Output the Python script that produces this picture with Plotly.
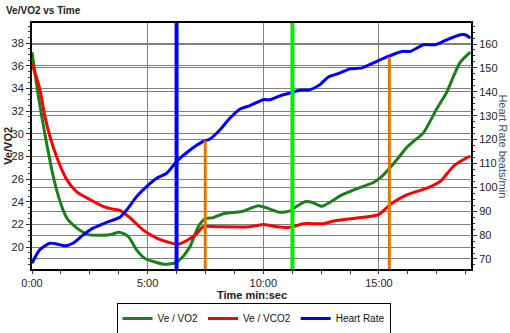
import plotly.graph_objects as go

# ---- data (time in minutes) ----
t_vo2 = [0, 0.3, 0.6, 0.98, 1.34, 1.56, 2.06, 2.43, 2.9, 3.36, 3.8, 4.16, 4.52, 4.88,
         5.3, 5.67, 6.18, 6.54, 6.83, 7.19, 7.48, 7.84, 8.27, 8.7, 9.13, 9.42, 9.78,
         10.15, 10.72, 11.16, 11.45, 11.8, 12.1, 12.53, 12.89, 13.3, 13.75, 14.25,
         14.76, 15.05, 15.48, 15.85, 16.2, 16.6, 16.93, 17.5, 17.94, 18.23, 18.51, 18.95]
ve_vo2 = [37.2, 33.0, 29.5, 25.7, 23.3, 22.4, 21.5, 21.1, 21.05, 21.1, 21.3, 20.95,
          19.76, 19.0, 18.7, 18.5, 18.6, 19.2, 20.05, 21.8, 22.5, 22.6, 22.95, 23.05,
          23.16, 23.4, 23.66, 23.46, 23.07, 23.2, 23.6, 24.0, 23.96, 23.6, 23.96, 24.5,
          24.9, 25.3, 25.7, 26.1, 27.0, 27.9, 28.8, 29.5, 30.1, 32.2, 33.7, 35.1, 36.3, 37.2]

t_vco2 = [0, 0.33, 0.55, 0.77, 1.06, 1.49, 1.92, 2.5, 3.07, 3.5, 3.8, 4.23, 4.81, 5.39,
          5.96, 6.32, 6.75, 7.12, 7.4, 7.98, 9.42, 10.0, 10.58, 11.16, 11.73, 12.6,
          13.03, 14.04, 14.98, 15.48, 16.2, 17.07, 17.65, 18.23, 18.81, 18.95]
ve_vco2 = [36.2, 34.0, 31.6, 29.8, 28.0, 26.0, 24.9, 24.2, 23.6, 23.35, 23.25, 22.6,
           21.5, 20.8, 20.4, 20.26, 20.65, 21.2, 21.8, 21.8, 21.8, 22.0, 21.8, 21.75,
           22.07, 22.07, 22.3, 22.57, 22.87, 23.75, 24.6, 25.2, 25.8, 27.15, 27.9, 28.0]

t_hr = [0, 0.33, 0.77, 1.06, 1.42, 1.77, 2.21, 2.64, 3.22, 3.8, 4.09, 4.52, 4.95, 5.39,
        5.82, 6.25, 6.75, 7.4, 7.69, 8.13, 8.56, 9.0, 9.42, 10.0, 10.29, 10.72, 11.23,
        11.59, 12.02, 12.45, 12.81, 13.32, 13.75, 14.26, 14.76, 15.34, 15.99, 16.35,
        16.93, 17.43, 17.87, 18.51, 18.73, 18.95]
hr = [68.2, 73.8, 76.6, 76.3, 75.5, 76.6, 80.1, 82.9, 85.3, 87.5, 90.5, 96.1, 100.3,
      103.8, 105.9, 110.8, 115, 119.2, 120.2, 124.1, 129, 132.8, 134.2, 136.7, 136.7,
      138.3, 139.7, 140.6, 140.9, 143, 146.2, 147.9, 149.6, 150.0, 152.1, 154.6, 156.9,
      156.9, 159.7, 159.7, 161.5, 163.9, 163.9, 162.5]

# event markers
full_marker_times = [6.25, 11.26]
full_marker_colors = ["#0000ff", "#00ee00"]
hr_marker_times = [7.49, 15.45]
hr_marker_tops = [119.6, 154.6]

x_tick_vals = [0, 5, 10, 15]
x_tick_text = ["0:00", "5:00", "10:00", "15:00"]
left_ticks = [20, 22, 24, 26, 28, 30, 32, 34, 36, 38]
right_ticks = [70, 80, 90, 100, 110, 120, 130, 140, 150, 160]

X_RANGE = [0, 18.98]
Y_RANGE = [18.07, 39.77]
Y2_RANGE = [65.8, 168.8]

FONT = "Liberation Sans"
GRID = "#808080"

fig = go.Figure()
fig.add_trace(go.Scatter(x=t_vo2, y=ve_vo2, name="Ve / VO2", mode="lines",
                         line=dict(color="#1a7f1a", width=3, shape="spline", smoothing=0.6)))
fig.add_trace(go.Scatter(x=t_vco2, y=ve_vco2, name="Ve / VCO2", mode="lines",
                         line=dict(color="#ff0000", width=3, shape="spline", smoothing=0.6)))
fig.add_trace(go.Scatter(x=t_hr, y=hr, name="Heart Rate", mode="lines", yaxis="y2",
                         line=dict(color="#0000ff", width=3, shape="spline", smoothing=0.6)))

shapes = []
for t, c in zip(full_marker_times, full_marker_colors):
    shapes.append(dict(type="line", xref="x", yref="paper", x0=t, x1=t, y0=0, y1=1,
                       line=dict(color=c, width=4), layer="above"))
for t, top in zip(hr_marker_times, hr_marker_tops):
    shapes.append(dict(type="line", xref="x", yref="y2", x0=t, x1=t, y0=Y2_RANGE[0], y1=top,
                       line=dict(color="#e07800", width=3), layer="above"))

fig.update_layout(
    width=510, height=333,
    margin=dict(l=32, r=39, t=23, b=64, autoexpand=False),
    paper_bgcolor="white", plot_bgcolor="white",
    font=dict(family=FONT, size=11, color="#222222"),
    showlegend=True,
    legend=dict(orientation="h", x=0.5046, y=-0.2015, xanchor="center", yanchor="middle",
                bordercolor="black", borderwidth=1, font=dict(size=10, color="#111"),
                itemwidth=30, tracegroupgap=0),
    shapes=shapes,
    xaxis=dict(range=X_RANGE, tickvals=x_tick_vals, ticktext=x_tick_text,
               showgrid=True, gridcolor=GRID, gridwidth=1, zeroline=False,
               showline=True, linecolor="black", linewidth=2, mirror=True,
               ticks="outside", ticklen=3, tickcolor="#333", automargin=False,
               minor=dict(dtick=1.25, tick0=0, ticks="outside", ticklen=3, tickcolor="#333", showgrid=False),
               tickfont=dict(size=11, color="#222")),
    yaxis=dict(range=Y_RANGE, tickvals=left_ticks, showgrid=True, gridcolor=GRID, gridwidth=1,
               zeroline=False, showline=True, linecolor="black", linewidth=2,
               ticks="outside", ticklen=4, tickcolor="#333", automargin=False,
               minor=dict(dtick=0.5, tick0=0, ticks="outside", ticklen=2, tickcolor="#333", showgrid=False),
               tickfont=dict(size=11, color="#222")),
    yaxis2=dict(range=Y2_RANGE, tickvals=right_ticks, overlaying="y", side="right",
                showgrid=True, gridcolor=GRID, gridwidth=1, zeroline=False,
                showline=True, linecolor="black", linewidth=2, automargin=False,
                ticks="outside", ticklen=4, tickcolor="#333",
                minor=dict(dtick=2.5, tick0=0, ticks="outside", ticklen=2, tickcolor="#333", showgrid=False),
                tickfont=dict(size=11, color="#222")),
    annotations=[
        dict(text="<b>Ve/VO2 vs Time</b>", xref="paper", yref="paper", x=-0.063, y=1.05,
             xanchor="left", yanchor="middle", showarrow=False, font=dict(size=10, color="#222")),
        dict(text="<b>Ve/VO2</b>", xref="paper", yref="paper", x=-0.055, y=0.5,
             xanchor="center", yanchor="middle", textangle=-90, showarrow=False,
             font=dict(size=11, color="#222")),
        dict(text="Heart Rate beats/min", xref="paper", yref="paper", x=1.072, y=0.5,
             xanchor="center", yanchor="middle", textangle=90, showarrow=False,
             font=dict(size=11, color="#3a5070")),
        dict(text="<b>Time min:sec</b>", xref="paper", yref="paper", x=0.5, y=-0.106,
             xanchor="center", yanchor="middle", showarrow=False, font=dict(size=11, color="#222")),
    ],
)

fig.write_html("out.html")
